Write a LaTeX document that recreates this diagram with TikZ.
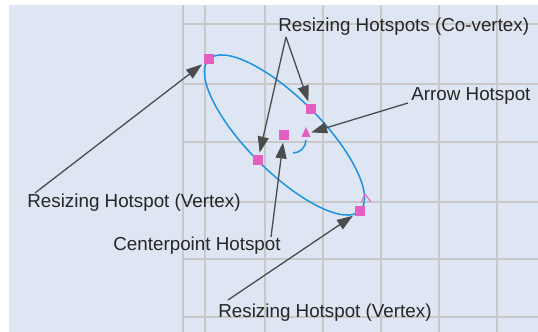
\documentclass[tikz,border=0pt]{standalone}
\usepackage{fontspec}
\setmainfont{Liberation Sans}
\usepackage{tikz}
\usetikzlibrary{arrows.meta, positioning, shapes.geometric}
\definecolor{canvas}{RGB}{221,230,242}
\definecolor{gridline}{RGB}{200,200,200}
\definecolor{hotpink}{RGB}{228,94,192}
\definecolor{outline}{RGB}{30,146,226}
\tikzset{
	x=0.5pt, y=-0.5pt, % one unit is one pixel of the screenshot, y grows downwards
	hotspot/.style={fill=hotpink, inner sep=0pt, minimum size=5pt}, % the square handles
	tiphotspot/.style={isosceles triangle, shape border rotate=90, isosceles triangle stretches,
		fill=hotpink, inner sep=0pt, minimum height=5pt, minimum width=4.5pt}, % the arrow handle
	callout/.style={font=\fontsize{9.4}{11}\selectfont, text=black!85, inner sep=0pt, anchor=base west}, % label text
	pointer/.style={draw=black!70, line width=0.65pt, -{Triangle[length=8pt,width=5.5pt]}, shorten >=1pt}, % callout arrows
}
\begin{document}
\begin{tikzpicture}
	\useasboundingbox (0,0) rectangle (538,332);
	\fill[canvas] (9,5) rectangle (538,332);
	% drawing grid
	\foreach \gx in {183,205,265,323,381,439,497}
		\draw[gridline, line width=1pt] (\gx,5) -- (\gx,332);
	\foreach \gy in {24,84,142,202,259,317}
		\draw[gridline, line width=1pt] (183,\gy) -- (538,\gy);
	% the shape and its handles
	\draw[outline, line width=0.75pt, rotate around={-45:(284.5,135)}] (284.5,135) ellipse [x radius=107, y radius=37];
	\draw[outline, line width=0.75pt] (293,153) arc [start angle=90, end angle=0, x radius=13, y radius=13];
	\draw[hotpink, line width=0.5pt] (361,203) -- (365,194) -- (371,202);
	\node[hotspot] (vtxA) at (209,59) {};
	\node[hotspot] (vtxB) at (360,211) {};
	\node[hotspot] (covA) at (311,109) {};
	\node[hotspot] (covB) at (258,160) {};
	\node[hotspot] (center) at (284,135) {};
	\node[tiphotspot] (arrowhs) at (306,134) {};
	% labels
	\node[callout] (covlbl) at (278,32) {Resizing Hotspots (Co-vertex)};
	\node[callout] (arrowlbl) at (411,101) {Arrow Hotspot};
	\node[callout] (vtxlbl) at (27,208) {Resizing Hotspot (Vertex)};
	\node[callout] (centerlbl) at (113,251) {Centerpoint Hotspot};
	\node[callout] (vtxlbltwo) at (218,318) {Resizing Hotspot (Vertex)};
	\coordinate (covfoot) at (286,37);
	\coordinate (arrowfoot) at (408,103);
	\coordinate (vtxfoot) at (35,193);
	\coordinate (centerfoot) at (271,237);
	\coordinate (vtxfoottwo) at (228,300);
	\path (covfoot) edge[pointer] (covA)
		edge[pointer] (covB)
		(arrowfoot) edge[pointer] (arrowhs)
		(vtxfoot) edge[pointer] (vtxA)
		(centerfoot) edge[pointer] (center)
		(vtxfoottwo) edge[pointer] (vtxB);
\end{tikzpicture}
\end{document}
